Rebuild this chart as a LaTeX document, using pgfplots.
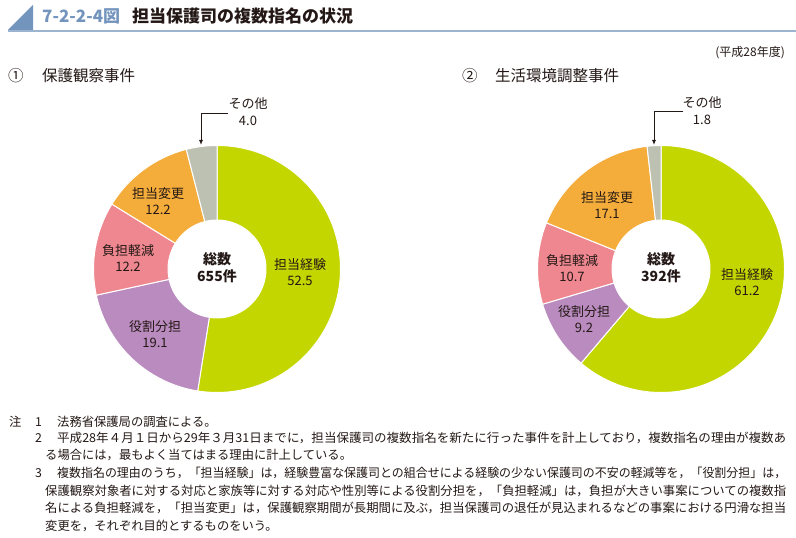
\documentclass[border=0pt]{standalone}
\usepackage{pgfplots}
\pgfplotsset{compat=1.18}
\usepackage{pgfplotstable}
\usetikzlibrary{arrows.meta}
\usepackage{graphicx}
\usepackage{fontspec}
\setmainfont{Noto Sans CJK JP}
\definecolor{cgreen}{HTML}{C4D600}
\definecolor{cpurple}{HTML}{B98BBE}
\definecolor{cpink}{HTML}{EE878F}
\definecolor{corange}{HTML}{F4AC3A}
\definecolor{cgray}{HTML}{BDC1B1}
\definecolor{ctitle}{HTML}{7394BC}
\definecolor{ctext}{HTML}{231815}

\pgfplotstableread{
name value color
experience 52.5 cgreen
roles 19.1 cpurple
burden 12.2 cpink
change 12.2 corange
other 4.0 cgray
}\tableA
\pgfplotstableread{
name value color
experience 61.2 cgreen
roles 9.2 cpurple
burden 10.7 cpink
change 17.1 corange
other 1.8 cgray
}\tableB

\newcommand{\donut}[3]{%
  \def\startang{90}%
  \pgfplotstablegetrowsof{#1}%
  \pgfmathtruncatemacro\lastrow{\pgfplotsretval-1}%
  \pgfplotsforeachungrouped \i in {0,...,\lastrow}{%
    \pgfplotstablegetelem{\i}{value}\of{#1}\let\val\pgfplotsretval
    \pgfplotstablegetelem{\i}{color}\of{#1}\let\col\pgfplotsretval
    \pgfmathsetmacro\endang{\startang-3.6*\val}%
    \edef\temp{\noexpand\fill[\col, draw=white, line width=1bp] (axis cs:#2,#3) ++(\startang:123.5bp) arc[start angle=\startang, end angle=\endang, radius=123.5bp] -- ++(\endang+180:74.5bp) arc[start angle=\endang, end angle=\startang, radius=49bp] -- cycle;}%
    \temp
    \let\startang\endang
  }%
}
\tikzset{lbl/.style={ctext, font=\fontsize{13bp}{16bp}\selectfont, align=center}}
\newcommand{\hlabel}[3]{\node[lbl] at (axis cs:#1,#2) {#3};}
\newcommand{\nline}[3]{\node[anchor=west, inner sep=0pt, ctext, font=\fontsize{12.3bp}{14bp}\selectfont] at (axis cs:#1,#2) {#3};}
\newcommand{\jline}[4]{\node[anchor=west, inner sep=0pt, ctext, font=\fontsize{12.3bp}{14bp}\selectfont] at (axis cs:#1,#2) {\resizebox{#3bp}{\height}{#4}};}

\begin{document}
\begin{tikzpicture}
\begin{axis}[
  at={(0,0)}, anchor=south west,
  width=796bp, height=538bp, scale only axis,
  xmin=0, xmax=796, ymin=0, ymax=538,
  hide axis, clip=false]
% title
\fill[ctitle] (axis cs:8,508) -- (axis cs:33,533) -- (axis cs:33,508) -- cycle;
\draw[ctitle!70, line width=1.2bp] (axis cs:8,507) -- (axis cs:796,507);
\node[anchor=west, inner sep=0pt, ctitle, font=\fontsize{17bp}{19bp}\selectfont\bfseries] at (axis cs:42,522) {7-2-2-4図};
\node[anchor=west, inner sep=0pt, ctext, font=\fontsize{17bp}{19bp}\selectfont\bfseries] at (axis cs:132,522) {担当保護司の複数指名の状況};
\node[anchor=east, inner sep=0pt, ctext, font=\fontsize{12bp}{14bp}\selectfont] at (axis cs:785,485) {(平成28年度)};
% section titles
\node[anchor=west, inner sep=0pt, ctext, font=\fontsize{15.5bp}{17bp}\selectfont] at (axis cs:8,462) {①};
\node[anchor=west, inner sep=0pt, ctext, font=\fontsize{15.5bp}{17bp}\selectfont] at (axis cs:42,462) {保護観察事件};
\node[anchor=west, inner sep=0pt, ctext, font=\fontsize{15.5bp}{17bp}\selectfont] at (axis cs:462,462) {②};
\node[anchor=west, inner sep=0pt, ctext, font=\fontsize{15.5bp}{17bp}\selectfont] at (axis cs:495,462) {生活環境調整事件};
% donuts
\donut{\tableA}{217}{269}
\donut{\tableB}{661}{269}
% left labels
\hlabel{300}{266}{担当経験\\52.5}
\hlabel{155}{204}{役割分担\\19.1}
\hlabel{128}{280}{負担軽減\\12.2}
\hlabel{158}{337}{担当変更\\12.2}
\node[ctext, align=center, font=\fontsize{13bp}{17bp}\selectfont] at (axis cs:248,426) {その他\\4.0};
\draw[ctext, line width=0.9bp, -{Latex[length=5bp,width=4bp]}] (axis cs:228,425) -- (axis cs:201,425) -- (axis cs:201,393);
\node[ctext, align=center, font=\fontsize{14bp}{17bp}\selectfont\bfseries] at (axis cs:217,270) {総数\\655件};
% right labels
\hlabel{747}{256}{担当経験\\61.2}
\hlabel{584}{219}{役割分担\\9.2}
\hlabel{572}{270}{負担軽減\\10.7}
\hlabel{607}{333}{担当変更\\17.1}
\node[ctext, align=center, font=\fontsize{13bp}{17bp}\selectfont] at (axis cs:702,427) {その他\\1.8};
\draw[ctext, line width=0.9bp, -{Latex[length=5bp,width=4bp]}] (axis cs:683,427) -- (axis cs:654,427) -- (axis cs:654,393);
\node[ctext, align=center, font=\fontsize{14bp}{17bp}\selectfont\bfseries] at (axis cs:661,270) {総数\\392件};
% notes
\nline{9}{116}{注}
\nline{35}{116}{1}
\nline{57}{116}{法務省保護局の調査による。}
\nline{35}{100}{2}
\jline{57}{100}{729}{平成28年４月１日から29年３月31日までに，担当保護司の複数指名を新たに行った事件を計上しており，複数指名の理由が複数あ}
\nline{45}{83}{る場合には，最もよく当てはまる理由に計上している。}
\nline{35}{65}{3}
\jline{57}{65}{729}{複数指名の理由のうち，「担当経験」は，経験豊富な保護司との組合せによる経験の少ない保護司の不安の軽減等を，「役割分担」は，}
\jline{45}{47}{741}{保護観察対象者に対する対応と家族等に対する対応や性別等による役割分担を，「負担軽減」は，負担が大きい事案についての複数指}
\jline{45}{30}{741}{名による負担軽減を，「担当変更」は，保護観察期間が長期間に及ぶ，担当保護司の退任が見込まれるなどの事案における円滑な担当}
\nline{45}{12}{変更を，それぞれ目的とするものをいう。}
\end{axis}
\pgfresetboundingbox
\path[use as bounding box] (0,0) rectangle (796bp,538bp);
\end{tikzpicture}
\end{document}
